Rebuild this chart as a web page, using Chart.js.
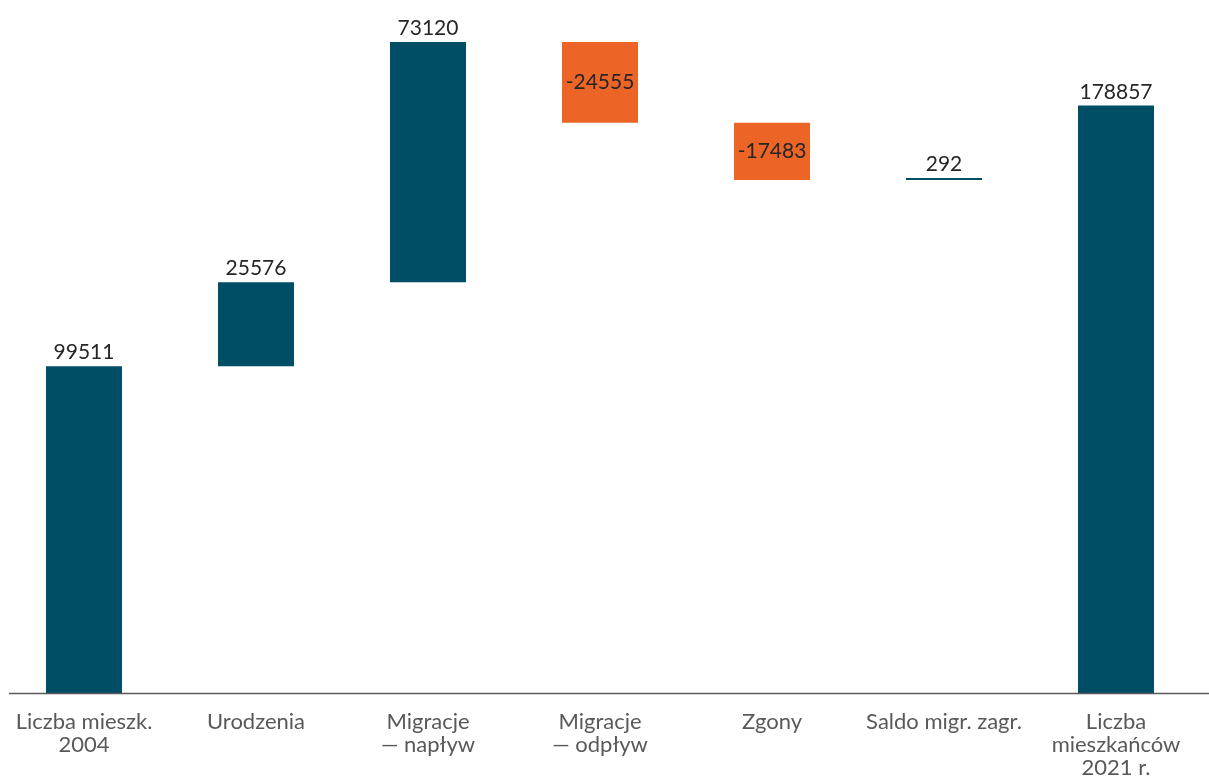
<!DOCTYPE html>
<html>
<head>
<meta charset="utf-8">
<script src="https://cdn.jsdelivr.net/npm/chart.js@4/dist/chart.umd.min.js"></script>
<style>
  html, body { margin: 0; padding: 0; background: #fff; overflow: hidden; }
  #wrap { position: absolute; left: -2px; top: 0; width: 1213px; height: 778px; }
</style>
</head>
<body>
<div id="wrap"><canvas id="waterfallChart"></canvas></div>
<script>
// ============================
// DATA
// ============================
const categories = [
  ["Liczba mieszk.", "2004"],
  "Urodzenia",
  ["Migracje", "— napływ"],
  ["Migracje", "— odpływ"],
  "Zgony",
  "Saldo migr. zagr.",
  ["Liczba", "mieszkańców", "2021 r."]
];
const changes = [99511, 25576, 73120, -24555, -17483, 292, 178857];
// first and last bars are totals (start from zero)
const isTotal = [true, false, false, false, false, false, true];

const TEAL = "#004d66";
const ORANGE = "#ec6527";

// build floating ranges
let running = 0;
const ranges = changes.map((v, i) => {
  if (isTotal[i]) {
    running = v;
    return [0, v];
  }
  const start = running;
  running += v;
  return [start, running];
});
const colors = changes.map((v) => (v < 0 ? ORANGE : TEAL));

// ============================
// PLUGIN: value labels + baseline
// ============================
const waterfallExtras = {
  id: "waterfallExtras",
  afterDatasetsDraw(chart) {
    const { ctx, scales } = chart;
    const meta = chart.getDatasetMeta(0);

    // baseline
    const y0 = Math.round(scales.y.getPixelForValue(0)) + 0.5;
    ctx.save();
    ctx.strokeStyle = "#595959";
    ctx.lineWidth = 1.5;
    ctx.beginPath();
    ctx.moveTo(11, y0);
    ctx.lineTo(chart.width, y0);
    ctx.stroke();

    // labels
    ctx.font = "21px Lato";
    ctx.fillStyle = "#262626";
    ctx.textAlign = "center";
    meta.data.forEach((bar, i) => {
      const v = changes[i];
      if (v < 0) {
        ctx.textBaseline = "middle";
        ctx.fillText(String(v), bar.x, (bar.y + bar.base) / 2);
      } else {
        const top = Math.min(bar.y, bar.base);
        ctx.textBaseline = "alphabetic";
        ctx.fillText(String(v), bar.x, top - 7);
      }
    });
    ctx.restore();
  }
};

// ============================
// CHART
// ============================
new Chart(document.getElementById("waterfallChart"), {
  type: "bar",
  data: {
    labels: categories,
    datasets: [
      {
        data: ranges,
        backgroundColor: colors,
        borderWidth: 0,
        borderSkipped: false,
        minBarLength: 2,
        categoryPercentage: 1,
        barPercentage: 0.442
      }
    ]
  },
  options: {
    responsive: true,
    maintainAspectRatio: false,
    animation: false,
    layout: { padding: { top: 0, right: 9, left: 0, bottom: 0 } },
    plugins: {
      legend: { display: false },
      tooltip: { enabled: false }
    },
    scales: {
      x: {
        grid: { display: false, drawTicks: false },
        border: { display: false },
        afterFit(scale) {
          scale.height = 85;
        },
        ticks: {
          color: "#595959",
          font: { family: "Lato", size: 22, lineHeight: 1.05 },
          padding: 17,
          maxRotation: 0,
          autoSkip: false
        }
      },
      y: {
        display: false,
        min: 0,
        max: 211000
      }
    }
  },
  plugins: [waterfallExtras]
});
</script>
</body>
</html>
